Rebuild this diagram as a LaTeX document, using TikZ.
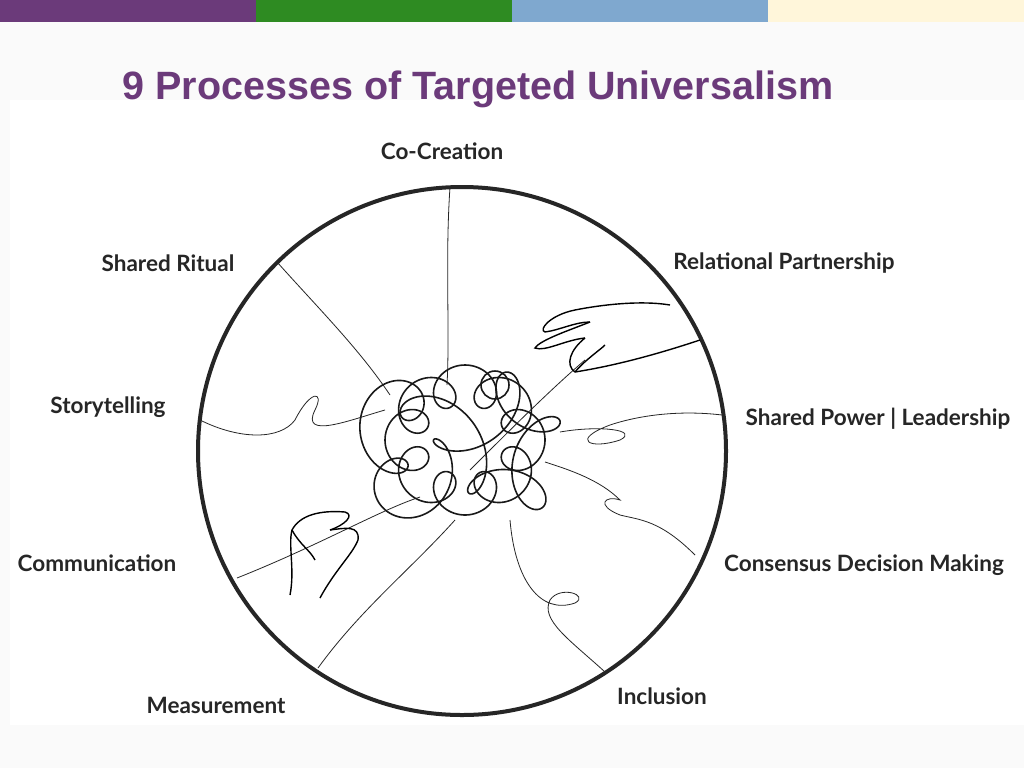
\documentclass[tikz,border=0pt]{standalone}
\usepackage{fontspec}
\setmainfont{Liberation Sans}
\newfontfamily\lab{Lato}
\begin{document}
\begin{tikzpicture}[x=1pt,y=-1pt,
  lbl/.style={font=\lab\bfseries\fontsize{22.5}{25}\selectfont, text=black!85},
  thread/.style={line width=0.8pt, black!85},
  tangle/.style={line width=1.6pt, black!90}]
\useasboundingbox (0,0) rectangle (1024,768);
\fill[gray!4] (0,0) rectangle (1024,768);
\fill[white] (10,100) rectangle (1024,725);
\fill[fill={rgb,255:red,107;green,58;blue,122}] (0,0) rectangle (256,22);
\fill[fill={rgb,255:red,46;green,139;blue,34}] (256,0) rectangle (512,22);
\fill[fill={rgb,255:red,127;green,168;blue,207}] (512,0) rectangle (768,22);
\fill[fill={rgb,255:red,255;green,246;blue,218}] (768,0) rectangle (1024,22);
\node[font=\bfseries\fontsize{39.5}{43}\selectfont, text={rgb,255:red,107;green,58;blue,122}] (title) at (478,89) {9 Processes of Targeted Universalism};
% circle
\node[circle, draw=black!85, line width=4pt, minimum size=528pt, inner sep=0pt] (ring) at (462,451) {};
% labels
\node[lbl] (cc) at (442,151) {Co-Creation};
\node[lbl] (sr) at (168,263) {Shared Ritual};
\node[lbl] (rp) at (784,263) {Relational Partnership};
\node[lbl] (st) at (108,407) {Storytelling};
\node[lbl] (sp) at (878,419) {Shared Power | Leadership};
\node[lbl] (co) at (97,563) {Communication};
\node[lbl] (cd) at (864,565) {Consensus Decision Making};
\node[lbl] (me) at (216,705) {Measurement};
\node[lbl] (in) at (662,696) {Inclusion};
% threads
\draw[thread] (450,187) .. controls (445,260) and (450,330) .. (447,385);
\draw[thread] (277,262) .. controls (320,310) and (360,350) .. (390,395);
\draw[thread] (200,420) .. controls (240,440) and (280,440) .. (295,420) .. controls (310,390) and (325,390) .. (315,410) .. controls (300,440) and (350,420) .. (385,410);
\draw[thread] (722,415) .. controls (680,410) and (640,415) .. (610,425) .. controls (570,440) and (590,450) .. (620,440) .. controls (640,430) and (600,425) .. (560,432);
\draw[thread] (695,555) .. controls (660,520) and (640,520) .. (620,515) .. controls (595,505) and (605,495) .. (620,500) .. controls (600,480) and (570,470) .. (545,462);
\draw[thread] (605,672) .. controls (570,640) and (540,620) .. (550,600) .. controls (560,585) and (590,595) .. (575,603) .. controls (540,615) and (515,580) .. (510,520);
\draw[thread] (318,668) .. controls (360,610) and (410,570) .. (455,520);
\draw[thread] (420,497) .. controls (380,510) and (320,545) .. (237,578);
\draw[thread] (470,470) .. controls (510,430) and (550,390) .. (585,360);
% tangle
\draw[tangle] plot[domain=0:360, samples=500, smooth] ({460+78*sin(\x)+24*cos(7*\x)},{445+50*sin(2*\x)+24*sin(7*\x)});
\draw[tangle] plot[domain=0:360, samples=500, smooth] ({465+60*cos(\x+40)+20*cos(9*\x)},{440+55*sin(\x+40)+20*sin(9*\x)});
\draw[tangle] (495,385) circle[radius=14pt];
% upper-right hand
\draw[line width=1.4pt] (670,305) .. controls (640,300) and (600,305) .. (575,310) .. controls (550,315) and (538,330) .. (545,332) .. controls (560,330) and (575,322) .. (590,322);
\draw[line width=1.4pt] (590,322) .. controls (570,330) and (540,340) .. (535,348) .. controls (545,352) and (565,340) .. (585,338);
\draw[line width=1.4pt] (585,338) .. controls (570,350) and (565,365) .. (575,372) .. controls (600,368) and (640,360) .. (700,340);
\draw[line width=1.4pt] (575,372) .. controls (585,360) and (600,350) .. (605,345);
% lower-left hand
\draw[line width=1.4pt] (290,595) .. controls (295,570) and (288,545) .. (292,530) .. controls (300,515) and (320,510) .. (345,512) .. controls (355,515) and (345,525) .. (330,530);
\draw[line width=1.4pt] (330,530) .. controls (345,528) and (360,525) .. (358,540) .. controls (352,555) and (335,570) .. (320,598);
\draw[line width=1.4pt] (292,530) .. controls (300,545) and (310,550) .. (315,560);
\end{tikzpicture}
\end{document}
